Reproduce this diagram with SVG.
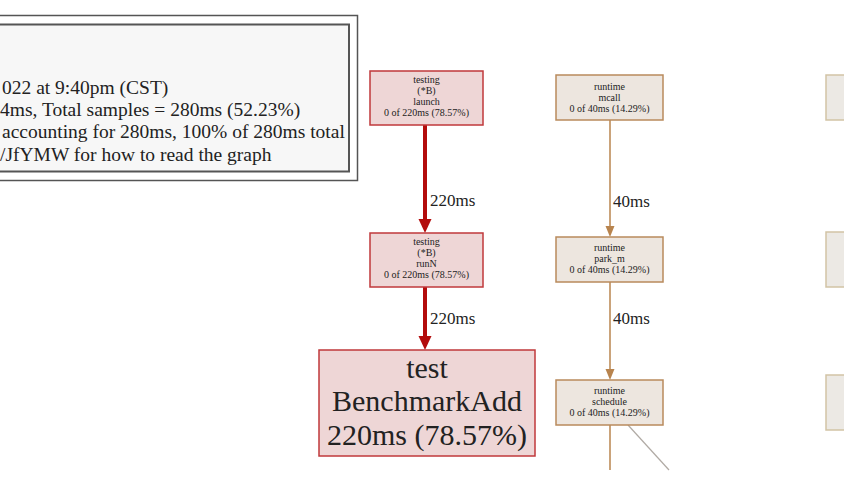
<svg xmlns="http://www.w3.org/2000/svg" width="844" height="483" viewBox="0 0 844 483">
<defs>
<style>
text{font-family:"Liberation Serif","Times New Roman",serif;fill:#222;text-anchor:middle}
.legend text{text-anchor:start;font-size:19.5px}
.sm{font-size:10px}
.big{font-size:30px}
.lbl{font-size:17px;text-anchor:start}
.hot rect{fill:#eed6d6;stroke:#c0393b;stroke-width:1.5}
.warm rect{fill:#ede6df;stroke:#b98a5c;stroke-width:1.5}
.faint rect{fill:#ece9e4;stroke:#d2c3a5;stroke-width:1.5}
.e-red{stroke:#b30c0c;stroke-width:4;fill:none}
.e-tan{stroke:#b8844e;stroke-width:1.5;fill:none}
.e-gray{stroke:#b0aaa4;stroke-width:1.2;fill:none}
</style>
<marker id="ah-red" markerUnits="userSpaceOnUse" markerWidth="14" markerHeight="14" refX="0" refY="7" orient="auto" overflow="visible">
<path d="M0,0.5 L14,7 L0,13.5 z" fill="#b30c0c"/>
</marker>
<marker id="ah-tan" markerUnits="userSpaceOnUse" markerWidth="11" markerHeight="10" refX="0" refY="5" orient="auto" overflow="visible">
<path d="M0,0.5 L11,5 L0,9.5 z" fill="#b8844e"/>
</marker>
</defs>
<rect width="844" height="483" fill="#fff"/>

<g id="legend" class="legend">
<rect x="-10" y="15.5" width="367.5" height="165" fill="#fff" stroke="#555" stroke-width="1.5"/>
<rect x="-10" y="24.5" width="359" height="147" fill="#f7f7f7" stroke="#555" stroke-width="2"/>
<text x="2" y="94">022 at 9:40pm (CST)</text>
<text x="0" y="116">4ms, Total samples = 280ms (52.23%)</text>
<text x="2" y="138">accounting for 280ms, 100% of 280ms total</text>
<text x="0" y="161">/JfYMW for how to read the graph</text>
</g>

<g id="edges">
<line class="e-red" x1="425" y1="125" x2="425" y2="219" marker-end="url(#ah-red)"/>
<text class="lbl" x="430" y="206">220ms</text>
<line class="e-red" x1="425" y1="287" x2="425" y2="336" marker-end="url(#ah-red)"/>
<text class="lbl" x="430" y="324">220ms</text>
<line class="e-tan" x1="610" y1="120" x2="610" y2="226" marker-end="url(#ah-tan)"/>
<text class="lbl" x="613" y="207">40ms</text>
<line class="e-tan" x1="610" y1="282" x2="610" y2="369" marker-end="url(#ah-tan)"/>
<text class="lbl" x="613" y="324">40ms</text>
<line class="e-tan" x1="610" y1="425" x2="610" y2="470"/>
<line class="e-gray" x1="628" y1="425" x2="669" y2="470"/>
</g>

<g id="node-launch" class="hot">
<rect x="370" y="71" width="113" height="54"/>
<text class="sm" x="426.5" y="83">testing</text>
<text class="sm" x="426.5" y="94">(*B)</text>
<text class="sm" x="426.5" y="105">launch</text>
<text class="sm" x="426.5" y="116">0 of 220ms (78.57%)</text>
</g>

<g id="node-runN" class="hot">
<rect x="370" y="233" width="113" height="54"/>
<text class="sm" x="426.5" y="245">testing</text>
<text class="sm" x="426.5" y="256">(*B)</text>
<text class="sm" x="426.5" y="267">runN</text>
<text class="sm" x="426.5" y="278">0 of 220ms (78.57%)</text>
</g>

<g id="node-benchmarkadd" class="hot">
<rect x="319" y="350" width="216" height="106"/>
<text class="big" x="427" y="378">test</text>
<text class="big" x="427" y="411">BenchmarkAdd</text>
<text class="big" x="427" y="445">220ms (78.57%)</text>
</g>

<g id="node-mcall" class="warm">
<rect x="556" y="75" width="107" height="45"/>
<text class="sm" x="609.5" y="90">runtime</text>
<text class="sm" x="609.5" y="101">mcall</text>
<text class="sm" x="609.5" y="112">0 of 40ms (14.29%)</text>
</g>

<g id="node-park_m" class="warm">
<rect x="556" y="237" width="107" height="45"/>
<text class="sm" x="609.5" y="251">runtime</text>
<text class="sm" x="609.5" y="262">park_m</text>
<text class="sm" x="609.5" y="273">0 of 40ms (14.29%)</text>
</g>

<g id="node-schedule" class="warm">
<rect x="556" y="380" width="107" height="45"/>
<text class="sm" x="609.5" y="394">runtime</text>
<text class="sm" x="609.5" y="405">schedule</text>
<text class="sm" x="609.5" y="416">0 of 40ms (14.29%)</text>
</g>

<g id="node-right-1" class="faint">
<rect x="826" y="75" width="40" height="45"/>
</g>
<g id="node-right-2" class="faint">
<rect x="826" y="232" width="40" height="55"/>
</g>
<g id="node-right-3" class="faint">
<rect x="826" y="375" width="40" height="55"/>
</g>
</svg>
